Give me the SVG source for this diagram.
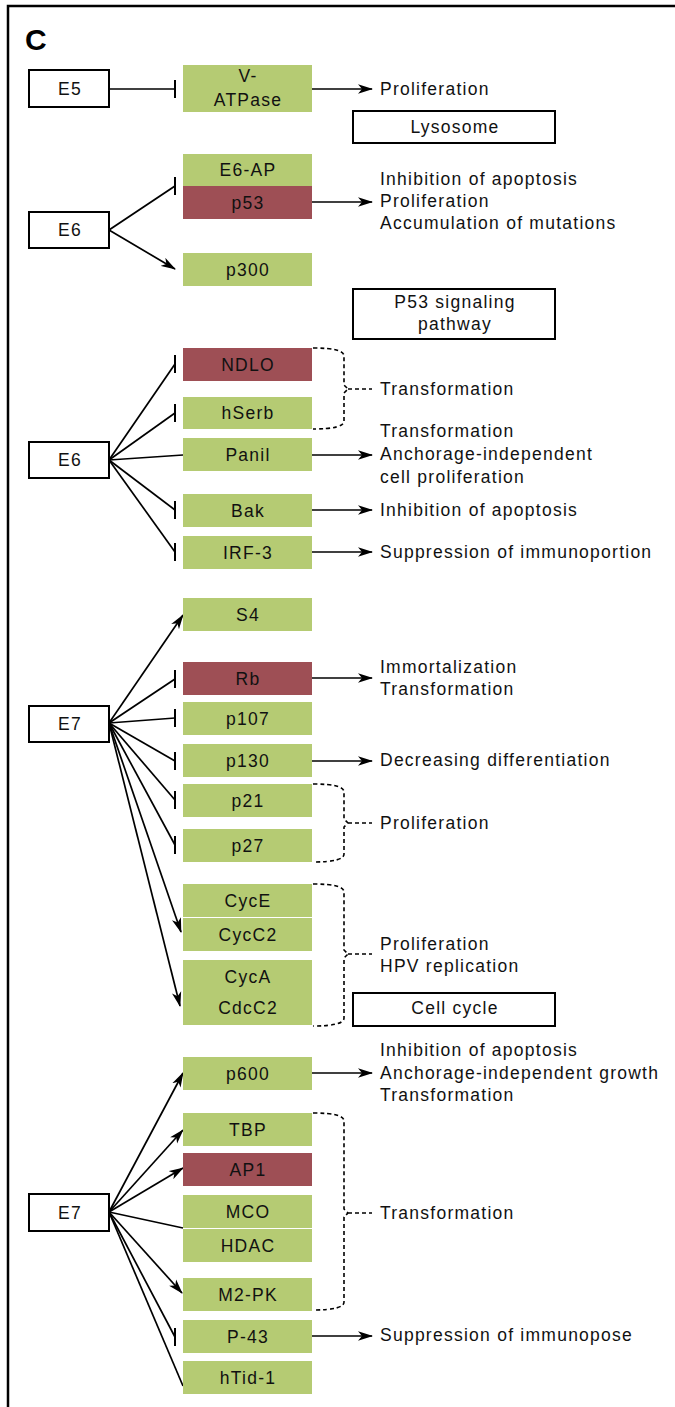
<svg xmlns="http://www.w3.org/2000/svg" width="675" height="1407" viewBox="0 0 675 1407">
<style>
.g{fill:#b5cb73}
.r{fill:#9e4f55}
.w{fill:#fff;stroke:#000;stroke-width:2}
.t{font-family:"Liberation Sans",Arial,sans-serif;font-size:17.5px;letter-spacing:1.25px;fill:#111}
.c{text-anchor:middle}
.ln{stroke:#000;stroke-width:1.7;fill:none}
.a{marker-end:url(#arr)}
.b{marker-end:url(#bar)}
.d{stroke:#000;stroke-width:1.6;fill:none;stroke-dasharray:4 3}
</style>
<defs>
<marker id="arr" viewBox="0 0 15 10" refX="14" refY="5" markerWidth="15" markerHeight="10" markerUnits="userSpaceOnUse" orient="auto">
<path d="M0,0.3 L15,5 L0,9.7 L4,5 Z" fill="#000"/>
</marker>
<marker id="bar" viewBox="-2 -10 4 20" refX="0" refY="0" markerWidth="4" markerHeight="20" markerUnits="userSpaceOnUse" orient="0">
<path d="M0,-9 V9" stroke="#000" stroke-width="2"/>
</marker>
</defs>
<rect width="675" height="1407" fill="#fff"/>
<path d="M8,1407 V6 H675" stroke="#000" stroke-width="2.5" fill="none"/>
<text x="25" y="50" font-family="Liberation Sans,Arial,sans-serif" font-weight="bold" font-size="30">C</text>

<g id="connectors">
<line class="ln b" x1="109" y1="89" x2="175" y2="89"/>
<line class="ln a" x1="312" y1="89" x2="372" y2="89"/>
<line class="ln b" x1="109" y1="230" x2="175" y2="186"/>
<line class="ln a" x1="109" y1="230" x2="175" y2="269"/>
<line class="ln a" x1="312" y1="202" x2="372" y2="202"/>

<line class="ln b" x1="109" y1="460" x2="175" y2="364"/>
<line class="ln b" x1="109" y1="460" x2="175" y2="413"/>
<line class="ln" x1="109" y1="460" x2="183" y2="455"/>
<line class="ln b" x1="109" y1="460" x2="175" y2="510"/>
<line class="ln b" x1="109" y1="460" x2="175" y2="552"/>
<line class="ln a" x1="312" y1="455" x2="372" y2="455"/>
<line class="ln a" x1="312" y1="510" x2="372" y2="510"/>
<line class="ln a" x1="312" y1="552" x2="372" y2="552"/>
<path class="d" d="M313,348 Q344,348 344,356 L344,385 L348,389 L344,393 L344,421 Q344,429 313,429 M348,389 H372"/>

<line class="ln a" x1="109" y1="723" x2="183" y2="615"/>
<line class="ln b" x1="109" y1="723" x2="175" y2="679"/>
<line class="ln b" x1="109" y1="723" x2="175" y2="718"/>
<line class="ln b" x1="109" y1="723" x2="175" y2="761"/>
<line class="ln b" x1="109" y1="723" x2="175" y2="800"/>
<line class="ln b" x1="109" y1="723" x2="175" y2="845"/>
<line class="ln a" x1="109" y1="723" x2="181" y2="932"/>
<line class="ln a" x1="109" y1="723" x2="180" y2="1006"/>
<line class="ln a" x1="312" y1="678" x2="372" y2="678"/>
<line class="ln a" x1="312" y1="761" x2="372" y2="761"/>
<path class="d" d="M313,784 Q344,784 344,792 L344,819 L348,823 L344,827 L344,854 Q344,862 313,862 M348,823 H372"/>
<path class="d" d="M313,884 Q344,884 344,892 L344,950 L348,954 L344,958 L344,1018 Q344,1026 313,1026 M348,954 H372"/>

<line class="ln a" x1="109" y1="1212" x2="183" y2="1073"/>
<line class="ln a" x1="109" y1="1212" x2="183" y2="1130"/>
<line class="ln a" x1="109" y1="1212" x2="183" y2="1168"/>
<line class="ln" x1="109" y1="1212" x2="183" y2="1228"/>
<line class="ln a" x1="109" y1="1212" x2="182" y2="1293"/>
<line class="ln b" x1="109" y1="1212" x2="175" y2="1337"/>
<line class="ln" x1="109" y1="1212" x2="183" y2="1386"/>
<line class="ln a" x1="312" y1="1073" x2="372" y2="1073"/>
<line class="ln a" x1="312" y1="1336" x2="372" y2="1336"/>
<path class="d" d="M313,1113 Q344,1113 344,1121 L344,1209 L348,1213 L344,1217 L344,1302 Q344,1310 313,1310 M348,1213 H372"/>
</g>

<g id="E5"><rect class="w" x="29" y="70" width="80" height="37"/><text class="t c" x="70" y="95">E5</text></g>
<g id="VATPase"><rect class="g" x="183" y="65" width="129" height="47"/><text class="t c" x="248" y="82">V-</text><text class="t c" x="248" y="106">ATPase</text></g>
<g id="lbl-prolif1"><text class="t" x="380" y="95">Proliferation</text></g>
<g id="Lysosome"><rect class="w" x="353" y="111" width="202" height="32"/><text class="t c" x="455" y="133">Lysosome</text></g>

<g id="E6a"><rect class="w" x="29" y="212" width="80" height="36"/><text class="t c" x="70" y="236">E6</text></g>
<g id="E6AP"><rect class="g" x="183" y="154" width="129" height="32"/><text class="t c" x="248" y="176">E6-AP</text></g>
<g id="p53"><rect class="r" x="183" y="186" width="129" height="33"/><text class="t c" x="248" y="209">p53</text></g>
<g id="p300"><rect class="g" x="183" y="253" width="129" height="33"/><text class="t c" x="248" y="276">p300</text></g>
<g id="lbl-p53"><text class="t" x="380" y="185">Inhibition of apoptosis</text><text class="t" x="380" y="207">Proliferation</text><text class="t" x="380" y="229">Accumulation of mutations</text></g>
<g id="P53path"><rect class="w" x="353" y="289" width="202" height="50"/><text class="t c" x="455" y="308">P53 signaling</text><text class="t c" x="455" y="330">pathway</text></g>

<g id="E6b"><rect class="w" x="29" y="442" width="80" height="36"/><text class="t c" x="70" y="466">E6</text></g>
<g id="NDLO"><rect class="r" x="183" y="348" width="129" height="33"/><text class="t c" x="248" y="371">NDLO</text></g>
<g id="hSerb"><rect class="g" x="183" y="397" width="129" height="32"/><text class="t c" x="248" y="419">hSerb</text></g>
<g id="Panil"><rect class="g" x="183" y="438" width="129" height="33"/><text class="t c" x="248" y="461">Panil</text></g>
<g id="Bak"><rect class="g" x="183" y="494" width="129" height="33"/><text class="t c" x="248" y="517">Bak</text></g>
<g id="IRF3"><rect class="g" x="183" y="536" width="129" height="33"/><text class="t c" x="248" y="559">IRF-3</text></g>
<g id="lbl-transf1"><text class="t" x="380" y="395">Transformation</text></g>
<g id="lbl-panil"><text class="t" x="380" y="437">Transformation</text><text class="t" x="380" y="460">Anchorage-independent</text><text class="t" x="380" y="483">cell proliferation</text></g>
<g id="lbl-bak"><text class="t" x="380" y="516">Inhibition of apoptosis</text></g>
<g id="lbl-irf3"><text class="t" x="380" y="558">Suppression of immunoportion</text></g>

<g id="E7a"><rect class="w" x="29" y="706" width="80" height="36"/><text class="t c" x="70" y="730">E7</text></g>
<g id="S4"><rect class="g" x="183" y="598" width="129" height="33"/><text class="t c" x="248" y="621">S4</text></g>
<g id="Rb"><rect class="r" x="183" y="662" width="129" height="33"/><text class="t c" x="248" y="685">Rb</text></g>
<g id="p107"><rect class="g" x="183" y="702" width="129" height="33"/><text class="t c" x="248" y="725">p107</text></g>
<g id="p130"><rect class="g" x="183" y="744" width="129" height="33"/><text class="t c" x="248" y="767">p130</text></g>
<g id="p21"><rect class="g" x="183" y="784" width="129" height="33"/><text class="t c" x="248" y="807">p21</text></g>
<g id="p27"><rect class="g" x="183" y="829" width="129" height="33"/><text class="t c" x="248" y="852">p27</text></g>
<g id="CycE"><rect class="g" x="183" y="884" width="129" height="33"/><text class="t c" x="248" y="907">CycE</text></g>
<g id="CycC2"><rect class="g" x="183" y="918" width="129" height="33"/><text class="t c" x="248" y="941">CycC2</text></g>
<g id="CycA"><rect class="g" x="183" y="960" width="129" height="65"/><text class="t c" x="248" y="983">CycA</text><text class="t c" x="248" y="1014">CdcC2</text></g>
<g id="lbl-rb"><text class="t" x="380" y="673">Immortalization</text><text class="t" x="380" y="695">Transformation</text></g>
<g id="lbl-p130"><text class="t" x="380" y="766">Decreasing differentiation</text></g>
<g id="lbl-prolif2"><text class="t" x="380" y="829">Proliferation</text></g>
<g id="lbl-prolif3"><text class="t" x="380" y="950">Proliferation</text><text class="t" x="380" y="972">HPV replication</text></g>
<g id="CellCycle"><rect class="w" x="353" y="993" width="202" height="33"/><text class="t c" x="455" y="1014">Cell cycle</text></g>

<g id="E7b"><rect class="w" x="29" y="1194" width="80" height="37"/><text class="t c" x="70" y="1219">E7</text></g>
<g id="p600"><rect class="g" x="183" y="1057" width="129" height="33"/><text class="t c" x="248" y="1080">p600</text></g>
<g id="TBP"><rect class="g" x="183" y="1113" width="129" height="33"/><text class="t c" x="248" y="1136">TBP</text></g>
<g id="AP1"><rect class="r" x="183" y="1153" width="129" height="33"/><text class="t c" x="248" y="1176">AP1</text></g>
<g id="MCO"><rect class="g" x="183" y="1195" width="129" height="33"/><text class="t c" x="248" y="1218">MCO</text></g>
<g id="HDAC"><rect class="g" x="183" y="1229" width="129" height="33"/><text class="t c" x="248" y="1252">HDAC</text></g>
<g id="M2PK"><rect class="g" x="183" y="1278" width="129" height="33"/><text class="t c" x="248" y="1301">M2-PK</text></g>
<g id="P43"><rect class="g" x="183" y="1320" width="129" height="33"/><text class="t c" x="248" y="1343">P-43</text></g>
<g id="hTid1"><rect class="g" x="183" y="1361" width="129" height="33"/><text class="t c" x="248" y="1384">hTid-1</text></g>
<g id="lbl-p600"><text class="t" x="380" y="1056">Inhibition of apoptosis</text><text class="t" x="380" y="1079">Anchorage-independent growth</text><text class="t" x="380" y="1101">Transformation</text></g>
<g id="lbl-transf2"><text class="t" x="380" y="1219">Transformation</text></g>
<g id="lbl-p43"><text class="t" x="380" y="1341">Suppression of immunopose</text></g>
</svg>
